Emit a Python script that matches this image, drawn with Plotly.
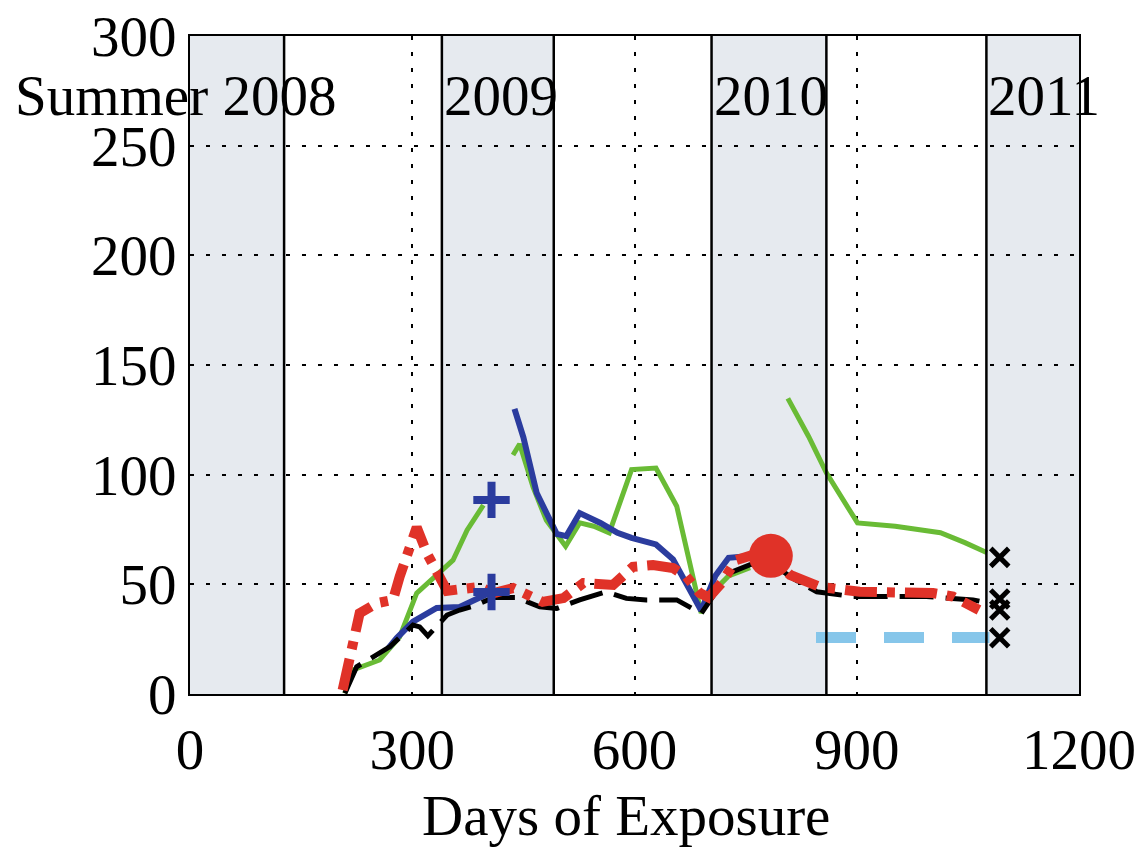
import plotly.graph_objects as go

# ---- data ----
season_bounds = [127, 340, 491, 704, 859, 1075]
winter_spans = [(0, 127), (340, 491), (704, 859), (1075, 1200)]
year_labels = ["Summer 2008", "2009", "2010", "2011"]
year_label_x = [200, 340, 704, 1075]
year_label_y = 273

black_days = [209, 225, 270, 301, 310, 321, 347, 364, 382, 410, 440, 472, 495, 526, 562, 589, 616,
              657, 690, 709, 727, 756, 784, 812, 846, 895, 949, 994, 1057, 1080]
black_vals = [0.3, 12.4, 21.6, 31.4, 30.6, 26.5, 36, 38.3, 40, 44, 44, 39.8, 39, 42.9, 46.6, 43.6, 42.9,
              42.9, 36.7, 46, 55, 59, 60, 53, 46.6, 44.4, 44.4, 44.4, 42.9, 41.4]

red_days = [206, 214, 229, 252, 274, 283, 301, 306, 320, 333, 347, 370, 391, 410, 436, 476, 504, 531,
            571, 598, 625, 652, 670, 688, 700, 718, 737, 765, 784, 810, 850, 904, 949, 1003, 1030, 1057, 1065]
red_vals = [1.8, 14, 36.8, 41.4, 42.9, 53.5, 71.7, 76, 64, 55.8, 47, 48, 48.8, 46, 48.3, 42, 43.7, 50.6,
            49.7, 58, 58.8, 57.4, 53.5, 46, 44, 50.8, 61, 64, 63, 54.3, 48.9, 46.6, 46, 46, 44.4, 39.7, 38.3]

blue_days = [268, 279, 301, 333, 364, 391, 407, None,
             438, 450, 468, 495, 508, 526, 554, 577, 596, 629, 652, 690, 709, 727, 756]
blue_vals = [21, 25.5, 33, 39.2, 39.7, 44.2, 46.5, None,
             130, 117, 91.6, 73, 72, 82.5, 78, 73.5, 71.2, 68.2, 61.4, 38, 53.8, 62.1, 62.9]

green_days = [209, 220, 256, 283, 306, 333, 355, 374, 396, None,
              436, 445, 463, 481, 507, 526, 545, 566, 596, 629, 657, 690, 709, 727, 756, None,
              807, 835, 859, 901, 952, 1013, 1046, 1076]
green_vals = [0.3, 11, 15.5, 26, 46, 54.3, 61, 74.7, 86.1, None,
              109, 114, 94.4, 79.2, 67.4, 78, 76.5, 73.5, 102.3, 103, 85.6, 37, 47.7, 53.8, 57.6, None,
              134.8, 117.4, 100.8, 78, 76.5, 73.5, 69, 64.4]

lightblue_days = [845, 1079]
lightblue_vals = [25.8, 25.8]

end_x_days = [1093, 1093, 1093, 1093]
end_x_vals = [62.3, 43.3, 38.3, 25.6]
plus_days = [407, 407]
plus_vals = [88.5, 46.5]
circle_days = [784]
circle_vals = [63]

x_ticks = [0, 300, 600, 900, 1200]
y_ticks = [0, 50, 100, 150, 200, 250, 300]

FONT = "Liberation Serif"
FS = 57

fig = go.Figure()

fig.add_trace(go.Scatter(x=green_days, y=green_vals, mode="lines",
                         line=dict(color="#69bb35", width=5), connectgaps=False))
fig.add_trace(go.Scatter(x=blue_days, y=blue_vals, mode="lines",
                         line=dict(color="#2b3c9e", width=6), connectgaps=False))
fig.add_trace(go.Scatter(x=black_days, y=black_vals, mode="lines",
                         line=dict(color="black", width=5, dash="34px,12px")))
fig.add_trace(go.Scatter(x=red_days, y=red_vals, mode="lines",
                         line=dict(color="#e03228", width=10, dash="32px,10px,8px,10px")))
fig.add_trace(go.Scatter(x=lightblue_days, y=lightblue_vals, mode="lines",
                         line=dict(color="#86c6ea", width=11, dash="40px,28px")))
fig.add_trace(go.Scatter(x=circle_days, y=circle_vals, mode="markers",
                         marker=dict(symbol="circle", size=44, color="#e03228")))
fig.add_trace(go.Scatter(x=plus_days, y=plus_vals, mode="markers",
                         marker=dict(symbol="cross-thin", size=26, color="#2b3c9e",
                                     line=dict(color="#2b3c9e", width=8))))
fig.add_trace(go.Scatter(x=end_x_days, y=end_x_vals, mode="markers",
                         marker=dict(symbol="x-thin", size=18, color="black",
                                     line=dict(color="black", width=5))))

shapes = []
for a, b in winter_spans:
    shapes.append(dict(type="rect", xref="x", yref="paper", x0=a, x1=b, y0=0, y1=1,
                       fillcolor="#e6eaef", line=dict(width=0), layer="below"))
for d in season_bounds:
    shapes.append(dict(type="line", xref="x", yref="paper", x0=d, x1=d, y0=0, y1=1,
                       line=dict(color="black", width=2.5), layer="above"))

annotations = []
for i, (t, xv) in enumerate(zip(year_labels, year_label_x)):
    annotations.append(dict(x=xv, y=year_label_y, xref="x", yref="y", text=t, showarrow=False,
                            xanchor="right" if i == 0 else "left", yanchor="middle",
                            font=dict(family=FONT, size=FS, color="black")))
annotations.append(dict(x=0.49, y=-0.184, xref="paper", yref="paper", text="Days of Exposure",
                        showarrow=False, xanchor="center", yanchor="middle",
                        font=dict(family=FONT, size=FS, color="black")))

fig.update_layout(
    width=1135, height=842,
    margin=dict(l=182, r=64, t=28, b=156, autoexpand=False),
    paper_bgcolor="white", plot_bgcolor="white",
    showlegend=False,
    font=dict(family=FONT, size=FS, color="black"),
    shapes=shapes, annotations=annotations,
    xaxis=dict(range=[0, 1200], tickvals=x_ticks, ticktext=[str(v) for v in x_ticks],
               showgrid=True, gridcolor="black", gridwidth=2, griddash="4px,12px",
               showline=True, linecolor="black", linewidth=2, mirror=True,
               ticks="outside", ticklen=5, tickcolor="rgba(0,0,0,0)", automargin=False,
               ticklabeloverflow="allow",
               zeroline=False, tickfont=dict(family=FONT, size=FS)),
    yaxis=dict(range=[0, 300], tickvals=y_ticks, ticktext=[str(v) for v in y_ticks],
               showgrid=True, gridcolor="black", gridwidth=2, griddash="4px,12px",
               showline=True, linecolor="black", linewidth=2, mirror=True,
               ticks="", automargin=False, ticklabeloverflow="allow",
               zeroline=False, tickfont=dict(family=FONT, size=FS)),
)

fig.write_html("out.html")
